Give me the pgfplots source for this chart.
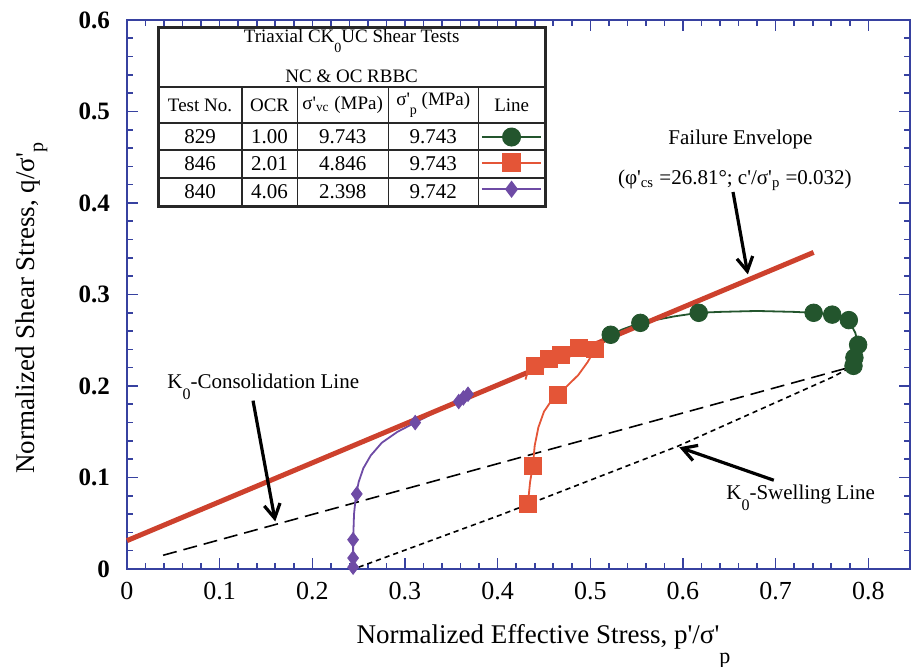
\documentclass[border=0pt]{standalone}
\usepackage{pgfplots}
\pgfplotsset{compat=1.18}
\usepackage{pgfplotstable}
\usepackage{fontspec}
\setmainfont{Liberation Serif}
\usetikzlibrary{arrows.meta}

\definecolor{axisblue}{RGB}{55,65,160}
\definecolor{envred}{RGB}{205,65,45}
\definecolor{sqred}{RGB}{228,85,55}
\definecolor{cgreen}{RGB}{35,85,45}
\definecolor{dpurple}{RGB}{110,75,165}
\definecolor{tblack}{RGB}{40,40,40}

% straight prime mark
\newcommand{\pr}{\textquotesingle}

% Test 829 (OCR 1.00): stress path and marked points
\pgfplotstableread{
x y
0.784 0.219
0.786 0.232
0.789 0.245
0.786 0.258
0.781 0.268
0.774 0.275
0.761 0.278
0.741 0.280
0.720 0.281
0.680 0.282
0.640 0.281
0.617 0.280
0.590 0.276
0.570 0.272
0.554 0.269
0.535 0.262
0.522 0.256
0.508 0.248
0.495 0.235
}\pathA
\pgfplotstableread{
x y
0.784 0.222
0.785 0.231
0.789 0.245
0.779 0.272
0.761 0.278
0.741 0.280
0.617 0.280
0.554 0.269
0.522 0.256
}\marksA

% Test 846 (OCR 2.01)
\pgfplotstableread{
x y
0.432 0.062
0.433 0.075
0.435 0.095
0.438 0.113
0.440 0.135
0.444 0.155
0.450 0.172
0.458 0.184
0.465 0.190
0.475 0.200
0.487 0.212
0.497 0.226
0.505 0.240
0.495 0.243
0.488 0.242
0.468 0.234
0.455 0.230
0.440 0.222
0.432 0.214
0.430 0.207
}\pathB
\pgfplotstableread{
x y
0.433 0.071
0.438 0.113
0.465 0.190
0.440 0.222
0.455 0.230
0.468 0.234
0.488 0.242
0.505 0.240
}\marksB

% Test 840 (OCR 4.06)
\pgfplotstableread{
x y
0.244 0.000
0.244 0.030
0.245 0.060
0.247 0.080
0.250 0.095
0.255 0.110
0.263 0.124
0.275 0.138
0.292 0.150
0.311 0.160
0.330 0.170
0.348 0.179
0.360 0.185
0.370 0.192
}\pathC
\pgfplotstableread{
x y
0.244 0.002
0.244 0.012
0.244 0.032
0.248 0.082
0.311 0.160
0.358 0.183
0.363 0.187
0.368 0.191
}\marksC

\begin{document}
\begin{tikzpicture}
\begin{axis}[
  scale only axis,
  width=391.5pt, height=274.5pt,
  xmin=0, xmax=0.845, ymin=0, ymax=0.6,
  xtick={0,0.1,0.2,0.3,0.4,0.5,0.6,0.7,0.8},
  ytick={0,0.1,0.2,0.3,0.4,0.5,0.6},
  minor x tick num=4, minor y tick num=4,
  tick align=inside,
  major tick length=5.5pt, minor tick length=3.2pt,
  axis line style={draw=axisblue, line width=1pt},
  every tick/.style={draw=axisblue, line width=0.8pt},
  scaled ticks=false,
  /pgf/number format/assume math mode=true,
  xticklabel style={font=\fontsize{13}{13}\selectfont, yshift=-3pt},
  yticklabel style={font=\fontsize{12.5}{13}\selectfont\bfseries, xshift=-5pt},
  xlabel={Normalized Effective Stress, p\pr/σ\pr\raisebox{-0.75em}{\fontsize{11}{11}\selectfont p}},
  ylabel={Normalized Shear Stress, q/σ\pr\raisebox{-0.3em}{\fontsize{10}{10}\selectfont p}},
  xlabel style={font=\fontsize{13.5}{14}\selectfont, at={(axis description cs:0.532,-0.135)}, anchor=base},
  ylabel style={font=\fontsize{13.5}{14}\selectfont, at={(axis description cs:-0.1175,0.475)}, anchor=base},
  clip=false,
]
\coordinate (bbsw) at (rel axis cs:0,0);
\coordinate (bbne) at (rel axis cs:1,1);

% K0 consolidation and swelling lines
\addplot[black, line width=0.8pt, dash pattern=on 7pt off 3.5pt] coordinates {(0.039,0.015) (0.782,0.221)};
\addplot[black, line width=0.8pt, dash pattern=on 2.6pt off 2pt] coordinates {(0.250,0.002) (0.403,0.059) (0.594,0.134) (0.762,0.210) (0.782,0.221)};

% stress paths
\addplot[dpurple, line width=0.9pt] table {\pathC};
\addplot[only marks, mark=diamond*, mark size=3.6pt, color=dpurple] table {\marksC};
\addplot[sqred, line width=0.9pt] table {\pathB};
\addplot[only marks, mark=square*, mark size=4.2pt, color=sqred] table {\marksB};
\addplot[cgreen, line width=0.9pt] table {\pathA};
\addplot[only marks, mark=*, mark size=4.4pt, color=cgreen] table {\marksA};

% failure envelope
\addplot[envred, line width=2.5pt] coordinates {(0,0.031) (0.741,0.346)};

% annotations
\node[font=\fontsize{10.5}{12}\selectfont] at (axis cs:0.662,0.469) {Failure Envelope};
\node[font=\fontsize{10.5}{12}\selectfont] at (axis cs:0.656,0.425) {(φ\pr\textsubscript{cs} =26.81°; c\pr/σ\pr\textsubscript{p} =0.032)};
\draw[black, line width=1.6pt, -{Straight Barb[length=7pt, width=8pt, line width=1.6pt]}] (axis cs:0.654,0.412) -- (axis cs:0.670,0.322);
\node[font=\fontsize{10.5}{12}\selectfont] at (axis cs:0.147,0.199) {K\raisebox{-0.5em}{\fontsize{8}{8}\selectfont 0}-Consolidation Line};
\draw[black, line width=1.6pt, -{Straight Barb[length=7pt, width=8pt, line width=1.6pt]}] (axis cs:0.136,0.184) -- (axis cs:0.160,0.052);
\node[font=\fontsize{10.5}{12}\selectfont] at (axis cs:0.727,0.078) {K\raisebox{-0.5em}{\fontsize{8}{8}\selectfont 0}-Swelling Line};
\draw[black, line width=1.6pt, -{Straight Barb[length=7pt, width=8pt, line width=1.6pt]}] (axis cs:0.698,0.097) -- (axis cs:0.596,0.133);

% summary table of the tests
\fill[white] (axis cs:0.0335,0.3967) rectangle (axis cs:0.4514,0.5923);
\draw[tblack, line width=0.6pt] (axis cs:0.0335,0.5268) -- (axis cs:0.4514,0.5268);
\draw[tblack, line width=0.6pt] (axis cs:0.0335,0.4874) -- (axis cs:0.4514,0.4874);
\draw[tblack, line width=0.6pt] (axis cs:0.0335,0.4579) -- (axis cs:0.4514,0.4579);
\draw[tblack, line width=0.6pt] (axis cs:0.0335,0.4273) -- (axis cs:0.4514,0.4273);
\draw[tblack, line width=0.6pt] (axis cs:0.1242,0.5268) -- (axis cs:0.1242,0.3967);
\draw[tblack, line width=0.6pt] (axis cs:0.1836,0.5268) -- (axis cs:0.1836,0.3967);
\draw[tblack, line width=0.6pt] (axis cs:0.2819,0.5268) -- (axis cs:0.2819,0.3967);
\draw[tblack, line width=0.6pt] (axis cs:0.3790,0.5268) -- (axis cs:0.3790,0.3967);
\draw[tblack, line width=1.5pt] (axis cs:0.0335,0.3967) rectangle (axis cs:0.4514,0.5923);

\node[font=\fontsize{9.5}{10}\selectfont] at (axis cs:0.2424,0.5770) {Triaxial CK\raisebox{-0.55em}{\fontsize{7}{7}\selectfont 0}UC Shear Tests};
\node[font=\fontsize{9.5}{10}\selectfont] at (axis cs:0.2424,0.5390) {NC \& OC RBBC};
\node[font=\fontsize{9.5}{10}\selectfont] at (axis cs:0.0788,0.5071) {Test No.};
\node[font=\fontsize{9.5}{10}\selectfont] at (axis cs:0.1539,0.5071) {OCR};
\node[font=\fontsize{9.5}{10}\selectfont] at (axis cs:0.2327,0.5071) {σ\pr\textsubscript{vc} (MPa)};
\node[font=\fontsize{9.5}{10}\selectfont] at (axis cs:0.3305,0.5071) {σ\pr\raisebox{-0.5em}{\fontsize{7}{7}\selectfont p} (MPa)};
\node[font=\fontsize{9.5}{10}\selectfont] at (axis cs:0.4152,0.5071) {Line};

\node[font=\fontsize{10.5}{10}\selectfont] at (axis cs:0.0788,0.4721) {829};
\node[font=\fontsize{10.5}{10}\selectfont] at (axis cs:0.1539,0.4721) {1.00};
\node[font=\fontsize{10.5}{10}\selectfont] at (axis cs:0.2327,0.4721) {9.743};
\node[font=\fontsize{10.5}{10}\selectfont] at (axis cs:0.3305,0.4721) {9.743};
\node[font=\fontsize{10.5}{10}\selectfont] at (axis cs:0.0788,0.4426) {846};
\node[font=\fontsize{10.5}{10}\selectfont] at (axis cs:0.1539,0.4426) {2.01};
\node[font=\fontsize{10.5}{10}\selectfont] at (axis cs:0.2327,0.4426) {4.846};
\node[font=\fontsize{10.5}{10}\selectfont] at (axis cs:0.3305,0.4426) {9.743};
\node[font=\fontsize{10.5}{10}\selectfont] at (axis cs:0.0788,0.4120) {840};
\node[font=\fontsize{10.5}{10}\selectfont] at (axis cs:0.1539,0.4120) {4.06};
\node[font=\fontsize{10.5}{10}\selectfont] at (axis cs:0.2327,0.4120) {2.398};
\node[font=\fontsize{10.5}{10}\selectfont] at (axis cs:0.3305,0.4120) {9.742};

% line samples in the table
\addplot[cgreen, line width=0.9pt, mark=*, mark size=4.3pt, mark indices={2}] coordinates {(0.383,0.4721) (0.415,0.4721) (0.447,0.4721)};
\addplot[sqred, line width=0.9pt, mark=square*, mark size=4.2pt, mark indices={2}] coordinates {(0.383,0.4440) (0.415,0.4440) (0.447,0.4440)};
\addplot[dpurple, line width=0.9pt, mark=diamond*, mark size=3.6pt, mark indices={2}] coordinates {(0.383,0.4150) (0.415,0.4150) (0.447,0.4150)};
\end{axis}
\pgfresetboundingbox
\path[use as bounding box] ([shift={(-63.5pt,-49pt)}]bbsw) rectangle ([shift={(2.5pt,10pt)}]bbne);
\end{tikzpicture}
\end{document}
